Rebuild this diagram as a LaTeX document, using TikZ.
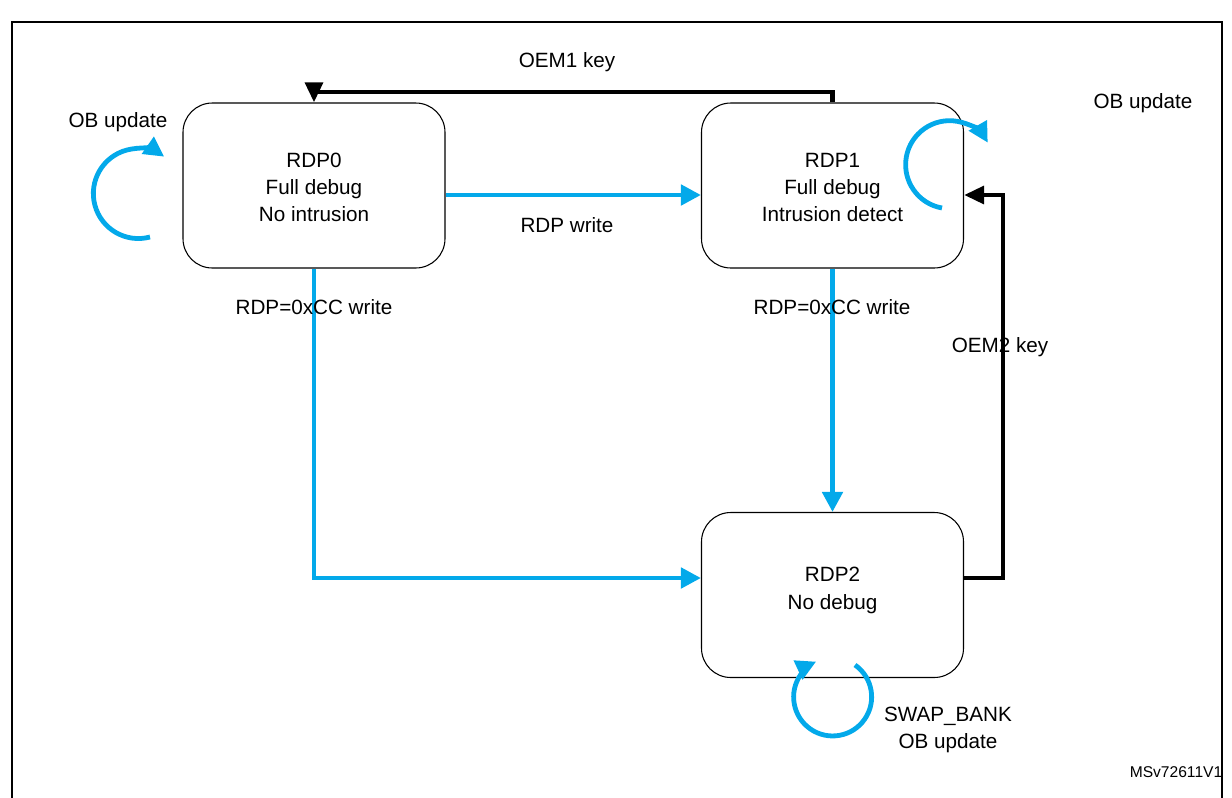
\documentclass[tikz,border=0pt]{standalone}
\usepackage{fontspec}
\setmainfont{Liberation Sans}
\usetikzlibrary{arrows.meta}
\definecolor{stblue}{RGB}{3,169,234}
\tikzstyle{state}=[draw, rounded corners=22pt, minimum width=196.5pt, minimum height=123.75pt, align=center, line width=0.8pt]
\tikzstyle{blueedge}=[draw=stblue, line width=3.6pt, -{Triangle[length=15pt,width=15pt]}]
\tikzstyle{blackedge}=[draw=black, line width=3.6pt, -{Triangle[length=15pt,width=13pt]}]
\tikzstyle{lbl}=[align=center]

\begin{document}
\begin{tikzpicture}[x=0.75pt, y=-0.75pt, font=\fontsize{15.5}{20.5}\selectfont]
        \useasboundingbox (0, 0) rectangle (1232, 797);
        \draw[line width=1pt] (12, 22) rectangle (1222, 800);
        \node[state] (RDP0) at (314, 185.5) {\\[-7pt]RDP0\\Full debug\\No intrusion};
        \node[state] (RDP1) at (832.5, 185.5) {\\[-7pt]RDP1\\Full debug\\Intrusion detect};
        \node[state] (RDP2) at (832.5, 595) {\\[-16.5pt]RDP2\\No debug};
        \coordinate (oemtop) at (0, 92);
        \coordinate (oemright) at (1003, 0);
        \coordinate (bend0) at (314, 578);
        \draw[blueedge] (RDP0.east |- 0, 195) -- (RDP1.west |- 0, 195);
        \draw[blueedge] (RDP0.south) -- (bend0) -- (RDP2.west |- bend0);
        \draw[blueedge] (RDP1.south) -- (RDP2.north);
        \draw[blackedge] (RDP1.north) -- (RDP1.north |- oemtop) -- (RDP0.north |- oemtop) -- (RDP0.north);
        \draw[blackedge] (RDP2.east |- bend0) -- (oemright |- bend0) -- (oemright |- 0, 195) -- (RDP1.east |- 0, 195);
        \draw[blueedge] (150, 237) arc (75:305:45);
        \draw[blueedge] (942, 208) arc (100:330:44);
        \draw[blueedge] (855, 665) arc (-55:245:39);
        \node[lbl] (lwrite) at (567, 225) {RDP write};
        \node[lbl] (loem1) at (567, 62) {OEM1 key};
        \node[lbl] (lcc0) at (314, 307) {RDP=0xCC write};
        \node[lbl] (lcc1) at (832, 307) {RDP=0xCC write};
        \node[lbl] (loem2) at (1000, 347) {OEM2 key};
        \node[lbl] (lob0) at (118, 122) {OB update};
        \node[lbl] (lob1) at (1143, 103) {OB update};
        \node[lbl] (lob2) at (948, 730) {SWAP\_BANK\\OB update};
        \node[lbl, font=\fontsize{11.7}{14}\selectfont] (ref) at (1176, 772) {MSv72611V1};
    \end{tikzpicture}
\end{document}
